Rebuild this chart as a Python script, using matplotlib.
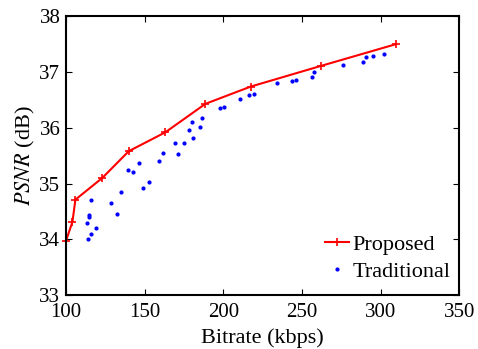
import matplotlib
matplotlib.use("Agg")
import matplotlib.pyplot as plt

plt.rcParams['font.family'] = ['Liberation Serif', 'DejaVu Serif']
plt.rcParams['mathtext.fontset'] = 'stix'

# Proposed method (rate-distortion curve)
prop_rate = [100.0, 104.1, 106.0, 123.1, 139.9, 163.2, 188.6, 217.4, 261.9, 309.5]
prop_psnr = [33.97, 34.31, 34.71, 35.10, 35.58, 35.92, 36.43, 36.74, 37.11, 37.50]

# Traditional method (scattered points)
trad_rate = [115.7, 114.9, 114.9, 113.2, 119.1, 116.1, 114.0, 128.8, 132.7, 134.8,
             139.5, 142.8, 146.6, 149.2, 152.6, 158.9, 161.9, 169.1, 171.0, 175.0,
             178.0, 180.3, 180.5, 185.2, 186.4, 197.9, 200.4, 210.6, 216.3, 219.5,
             234.3, 243.4, 246.4, 256.3, 257.4, 275.8, 288.8, 290.7, 295.1, 301.9]
trad_psnr = [34.70, 34.44, 34.40, 34.29, 34.20, 34.09, 34.00, 34.65, 34.45, 34.84,
             35.25, 35.20, 35.36, 34.92, 35.02, 35.41, 35.55, 35.72, 35.53, 35.72,
             35.96, 36.10, 35.82, 36.01, 36.17, 36.35, 36.38, 36.52, 36.59, 36.60,
             36.80, 36.84, 36.86, 36.92, 37.00, 37.13, 37.19, 37.27, 37.29, 37.32]

fig = plt.figure(figsize=(4.78, 3.49), dpi=100)
ax = fig.add_axes([0.138, 0.155, 0.823, 0.798])

ax.plot(prop_rate, prop_psnr, 'r-+', lw=1.5, ms=6, mew=1.2, label='Proposed',
        clip_on=False)
ax.plot(trad_rate, trad_psnr, 'b.', ms=4, label='Traditional')

ax.set_xlim(100, 350)
ax.set_ylim(33, 38)
ax.set_xticks(range(100, 351, 50))
ax.set_yticks(range(33, 39))
ax.tick_params(direction='in', top=True, right=True, labelsize=15, length=4)
ax.tick_params(axis='x', pad=6)
ax.tick_params(axis='y', pad=4)
for s in ax.spines.values():
    s.set_linewidth(1.5)

ax.set_xlabel('Bitrate (kbps)', fontsize=16, labelpad=4)
ax.set_ylabel('$PSNR$ (dB)', fontsize=16, labelpad=2)

ax.legend(loc='lower right', bbox_to_anchor=(1.0, 0.015), frameon=False,
          fontsize=16, handlelength=1.1, handletextpad=0.15, borderaxespad=0.0,
          labelspacing=0.3)

fig.savefig('out.png', dpi=100)
